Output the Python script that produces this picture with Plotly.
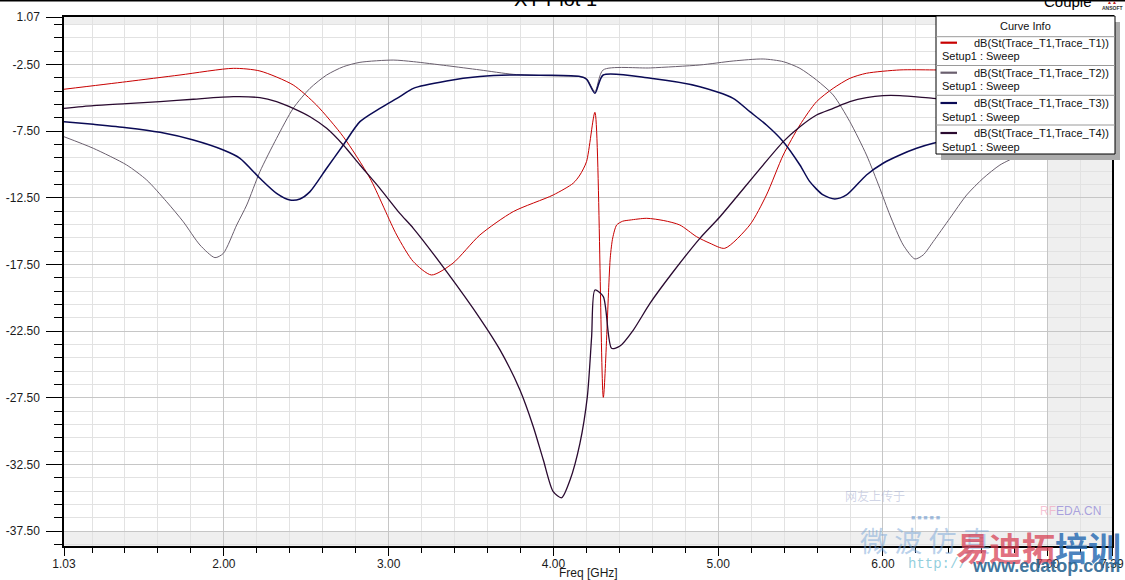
import numpy as np
import plotly.graph_objects as go

# ---------------- data ----------------
t1_f = [1.03, 1.41, 1.734, 2.058, 2.219, 2.421, 2.562, 2.725, 2.887, 3.049, 3.15, 3.26, 3.39,
        3.554, 3.756, 3.999, 4.12, 4.161, 4.201, 4.252, 4.303, 4.345, 4.36, 4.384, 4.42, 4.465,
        4.566, 4.67, 4.767, 4.869, 4.95, 5.04, 5.192, 5.293, 5.395, 5.496, 5.597, 5.698, 5.799,
        5.9, 6.103, 6.305, 6.6, 7.0, 7.39]
t1_db = [-4.35, -3.78, -3.28, -2.78, -2.98, -4.03, -5.53, -7.91, -11.03, -15.28, -17.28, -18.28, -17.4,
         -15.28, -13.53, -12.28, -11.4, -10.78, -9.78, -6.08, -27.46, -17.0, -15.5, -14.53, -14.25, -14.16,
         -14.03, -14.2, -14.53, -15.41, -15.9, -16.28, -14.53, -12.28, -9.28, -7.03, -5.28, -4.28, -3.53,
         -3.15, -2.9, -2.9, -2.95, -3.1, -3.3]

t2_f = [1.03, 1.208, 1.41, 1.532, 1.653, 1.754, 1.855, 1.946, 1.997, 2.078, 2.139, 2.219, 2.32,
        2.421, 2.523, 2.624, 2.725, 2.826, 3.028, 3.15, 3.352, 3.554, 3.756, 3.95, 4.161, 4.201,
        4.252, 4.302, 4.59, 4.889, 5.091, 5.273, 5.395, 5.496, 5.597, 5.698, 5.799, 5.9, 5.981,
        6.042, 6.123, 6.194, 6.244, 6.305, 6.406, 6.508, 6.608, 6.71, 6.831, 7.0, 7.2, 7.39]
t2_db = [-7.91, -8.78, -10.03, -11.16, -12.79, -14.29, -16.03, -16.98, -16.66, -14.53, -13.03, -10.53, -8.03,
         -5.78, -4.28, -3.28, -2.66, -2.33, -2.16, -2.28, -2.58, -2.9, -3.23, -3.33, -3.4, -3.53,
         -4.53, -2.9, -2.75, -2.53, -2.23, -2.08, -2.28, -2.78, -3.66, -4.78, -6.78, -9.28, -11.78,
         -13.78, -16.03, -17.08, -16.78, -15.78, -14.03, -12.28, -11.03, -10.03, -9.28, -8.2, -7.3, -6.6]

t3_f = [1.03, 1.208, 1.41, 1.613, 1.815, 1.997, 2.098, 2.219, 2.32, 2.401, 2.462, 2.523, 2.624,
        2.725, 2.826, 2.947, 3.068, 3.15, 3.352, 3.554, 3.756, 3.95, 4.161, 4.201, 4.252, 4.302,
        4.59, 4.889, 5.091, 5.192, 5.293, 5.395, 5.496, 5.556, 5.637, 5.708, 5.779, 5.9, 6.001,
        6.103, 6.204, 6.305, 6.6, 7.0, 7.39]
t3_db = [-6.78, -6.98, -7.23, -7.58, -8.16, -8.91, -9.53, -11.03, -12.16, -12.66, -12.58, -12.03, -10.28,
         -8.53, -6.78, -5.78, -4.91, -4.28, -3.73, -3.4, -3.28, -3.3, -3.4, -3.6, -4.65, -3.28,
         -3.53, -4.16, -5.03, -6.03, -7.03, -8.28, -10.03, -11.28, -12.28, -12.58, -12.28, -10.78, -9.9,
         -9.28, -8.78, -8.4, -7.7, -7.1, -6.7]

t4_f = [1.03, 1.208, 1.41, 1.613, 1.815, 2.058, 2.219, 2.32, 2.421, 2.523, 2.624, 2.725, 2.826,
        2.947, 3.068, 3.15, 3.352, 3.554, 3.676, 3.797, 3.878, 3.939, 3.999, 4.05, 4.101, 4.161,
        4.206, 4.232, 4.252, 4.303, 4.353, 4.404, 4.485, 4.586, 4.727, 4.889, 5.011, 5.395, 5.496,
        5.597, 5.698, 5.799, 5.9, 6.001, 6.103, 6.305, 6.7, 7.39]
t4_db = [-5.78, -5.58, -5.43, -5.28, -5.1, -4.91, -4.98, -5.28, -5.78, -6.41, -7.28, -8.53, -10.03,
         -11.78, -13.66, -14.78, -18.03, -21.53, -23.9, -26.91, -29.66, -32.16, -34.54, -34.99, -33.66, -30.91,
         -27.41, -22.91, -19.41, -19.91, -23.78, -23.61, -22.41, -20.41, -18.04, -15.53, -13.91, -8.28, -7.16,
         -6.28, -5.78, -5.28, -4.98, -4.83, -4.83, -5.03, -5.4, -6.0]

trace_names = ["dB(St(Trace_T1,Trace_T1))", "dB(St(Trace_T1,Trace_T2))",
               "dB(St(Trace_T1,Trace_T3))", "dB(St(Trace_T1,Trace_T4))"]
trace_colors = ["#c80000", "#6a5f6e", "#0a0a55", "#2a0a30"]
trace_widths = [1.0, 1.0, 1.5, 1.3]

x_tickvals = [1.03, 2.0, 3.0, 4.0, 5.0, 6.0, 7.0, 7.39]
x_ticktext = ["1.03", "2.00", "3.00", "4.00", "5.00", "6.00", "7.00", "7.39"]
y_tickvals = [1.07, -2.5, -7.5, -12.5, -17.5, -22.5, -27.5, -32.5, -37.5]
y_ticktext = ["1.07", "-2.50", "-7.50", "-12.50", "-17.50", "-22.50", "-27.50", "-32.50", "-37.50"]

X_RANGE = [1.03, 7.39]
Y_RANGE = [-38.61, 1.07]

# ---------------- geometry helpers ----------------
W, H = 1125, 580
L, R, T, B = 64, 13, 17, 34
PW, PH = W - L - R, H - T - B


def px(x):
    return (x - L) / PW


def py(y):
    return (H - B - y) / PH


FONT = "Arial, Liberation Sans, sans-serif"

fig = go.Figure()
series = [(t1_f, t1_db), (t2_f, t2_db), (t3_f, t3_db), (t4_f, t4_db)]
for (f, d), name, col, w in zip(series, trace_names, trace_colors, trace_widths):
    fig.add_trace(go.Scatter(x=f, y=d, mode="lines", name=name,
                             line=dict(color=col, width=w, shape="spline", smoothing=0.7),
                             showlegend=False, hoverinfo="x+y+name"))

shapes = []
# grey bands outside the round-number area
shapes.append(dict(type="rect", xref="x", yref="y", x0=X_RANGE[0], x1=X_RANGE[1],
                   y0=Y_RANGE[0], y1=-37.5, fillcolor="#efefef", line_width=0, layer="below"))
shapes.append(dict(type="rect", xref="x", yref="y", x0=7.0, x1=X_RANGE[1],
                   y0=Y_RANGE[0], y1=Y_RANGE[1], fillcolor="#efefef", line_width=0, layer="below"))
shapes.append(dict(type="rect", xref="x", yref="y", x0=X_RANGE[0], x1=X_RANGE[1],
                   y0=0.5, y1=Y_RANGE[1], fillcolor="#efefef", line_width=0, layer="below"))
# window border at very top
shapes.append(dict(type="line", xref="paper", yref="paper", x0=px(0), x1=px(W),
                   y0=py(0.7), y1=py(0.7), line=dict(color="#000000", width=1.5)))

# ---- legend box ("Curve Info") ----
lx0, lx1, ly0, ly1 = 936, 1115, 16, 154
shapes.append(dict(type="rect", xref="paper", yref="paper", x0=px(lx0 + 5), x1=px(lx1 + 5),
                   y0=py(ly1 + 6), y1=py(ly0 + 6), fillcolor="#ababab", line_width=0))
shapes.append(dict(type="rect", xref="paper", yref="paper", x0=px(lx0), x1=px(lx1),
                   y0=py(ly1), y1=py(ly0), fillcolor="#ffffff",
                   line=dict(color="#000000", width=1)))
sep_y = [36.7, 65.5, 95.3, 125]
for sy in sep_y:
    shapes.append(dict(type="line", xref="paper", yref="paper", x0=px(lx0), x1=px(lx1),
                       y0=py(sy), y1=py(sy), line=dict(color="#9a9a9a", width=1)))

annotations = []


def note(text, x, y, size, color, family=FONT, xanchor="center"):
    annotations.append(dict(text=text, xref="paper", yref="paper", x=px(x), y=py(y),
                            showarrow=False, xanchor=xanchor, yanchor="middle",
                            font=dict(family=family, size=size, color=color)))


note("Curve Info", (lx0 + lx1) / 2, 26, 11, "#111111")
row_line_y = [42.7, 72.7, 103.0, 133.0]
row_setup_y = [56, 86, 116.5, 146.5]
for i in range(4):
    shapes.append(dict(type="line", xref="paper", yref="paper", x0=px(940.5), x1=px(957),
                       y0=py(row_line_y[i]), y1=py(row_line_y[i]),
                       line=dict(color=trace_colors[i], width=2.2)))
    note(trace_names[i], 1111, row_line_y[i], 11, "#111111", xanchor="right")
    note("Setup1 : Sweep", 940, row_setup_y[i], 11, "#111111", xanchor="left")

# title pieces (cut at the top edge of the image)
note("XY Plot 1", 555, -1, 20, "#000000")
note("Couple", 1068, 2, 15, "#000000")
note("<b>ANSOFT</b>", 1112, 8, 5, "#333333")
note("<b>▲▲</b>", 1112, 2, 5, "#c02020")

# axis title
note("Freq [GHz]", 588, 573, 12, "#1a1a1a")

# watermark
CJK = "Noto Sans CJK SC"
note("网友上传于", 875, 495, 12, "rgba(150,160,200,0.45)", family=CJK)
note("■ ■ ■ ■ ■", 925, 517, 7, "rgba(90,140,200,0.55)")
note("<span style='color:rgba(240,150,180,0.7)'>RF</span>EDA.CN", 1070, 511, 12,
     "rgba(150,140,215,0.8)")
note("微 波 仿 真", 925, 540, 28, "rgba(120,165,215,0.5)", family=CJK)
note("http://", 937, 564, 14, "rgba(110,190,210,0.75)", family="Liberation Mono, monospace")
note("<b><span style='color:rgba(215,60,80,0.85)'>易迪拓</span>培训</b>", 1038, 547, 33,
     "rgba(45,110,180,0.85)", family=CJK)
note("<b>www.edatop.com</b>", 1046, 566, 18, "rgba(40,100,145,0.9)")

fig.update_layout(
    width=W, height=H,
    margin=dict(l=L, r=R, t=T, b=B, pad=0, autoexpand=False),
    paper_bgcolor="#ffffff", plot_bgcolor="#ffffff",
    font=dict(family=FONT, size=12, color="#1a1a1a"),
    shapes=shapes, annotations=annotations, showlegend=False,
    xaxis=dict(range=X_RANGE, tickmode="array", tickvals=x_tickvals, ticktext=x_ticktext,
               automargin=False, ticklabelstandoff=-2,
               ticks="outside", ticklen=8, tickwidth=1, tickcolor="#000000",
               showline=True, linecolor="#000000", linewidth=1.5, mirror=True,
               showgrid=True, gridcolor="#c6c6c6", gridwidth=1, zeroline=False,
               tickfont=dict(family=FONT, size=12, color="#1a1a1a"),
               minor=dict(tickmode="array", tickvals=list(np.round(np.arange(1.2, 7.3, 0.2), 2)),
                          ticks="outside", ticklen=5, tickcolor="#000000",
                          showgrid=True, gridcolor="#e2e2e2", gridwidth=1)),
    yaxis=dict(range=Y_RANGE, tickmode="array", tickvals=y_tickvals, ticktext=y_ticktext,
               automargin=False, ticklabelstandoff=4,
               ticks="outside", ticklen=16, tickwidth=1, tickcolor="#000000",
               showline=True, linecolor="#000000", linewidth=1.5, mirror=True,
               showgrid=True, gridcolor="#c6c6c6", gridwidth=1, zeroline=False,
               tickfont=dict(family=FONT, size=12, color="#1a1a1a"),
               minor=dict(tickmode="array", tickvals=list(np.arange(0.5, -38.6, -1.0)),
                          ticks="outside", ticklen=8, tickcolor="#000000",
                          showgrid=True, gridcolor="#e2e2e2", gridwidth=1)),
)

fig.write_html("out.html", config={"displayModeBar": False},
               post_script="document.body.style.margin='0px';document.body.style.overflow='hidden';")
